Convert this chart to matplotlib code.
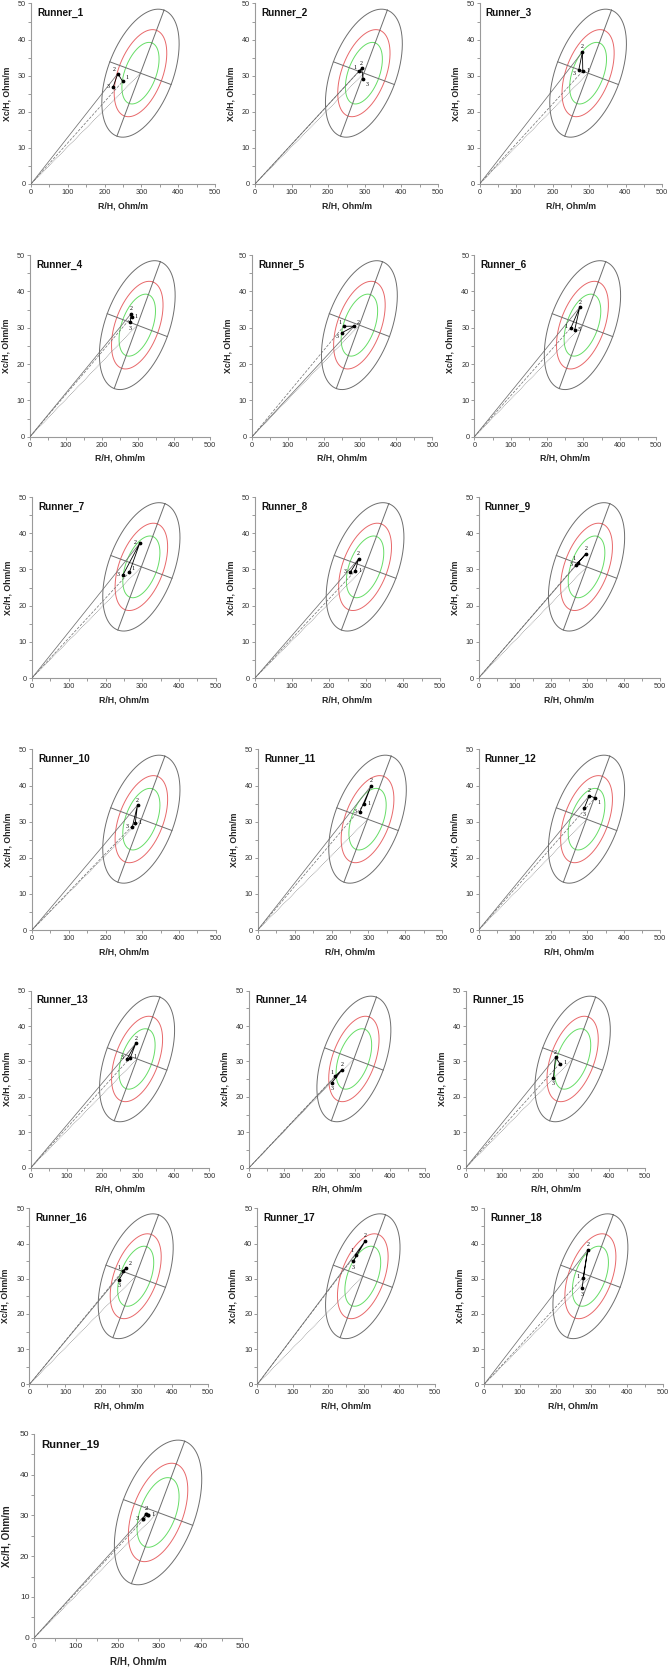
import numpy as np
import matplotlib
matplotlib.use('Agg')
import matplotlib.pyplot as plt
from matplotlib.ticker import MultipleLocator

plt.rcParams['font.family'] = ['Liberation Sans', 'DejaVu Sans']

# ---------------- data ----------------
runners = ['Runner_%d' % i for i in range(1, 20)]

# measurement 1
rh_1 = [249, 285, 283, 282, 254, 266, 265, 271, 273, 281, 288, 321, 279, 245, 262, 261, 277, 277, 273]
xc_1 = [28.4, 31.3, 31.3, 33.0, 30.4, 30.0, 29.2, 29.6, 31.8, 29.7, 34.8, 36.6, 31.1, 25.9, 29.4, 32.2, 36.8, 30.3, 30.1]
# measurement 2
rh_2 = [236, 291, 282, 280, 283, 290, 293, 280, 296, 287, 307, 305, 294, 263, 250, 271, 305, 290, 269]
xc_2 = [30.6, 32.0, 36.6, 33.8, 30.4, 35.6, 37.2, 32.9, 34.3, 34.6, 39.9, 37.2, 35.1, 27.6, 31.2, 33.1, 40.8, 38.2, 30.4]
# measurement 3
rh_3 = [223, 296, 272, 278, 249, 276, 247, 258, 269, 273, 276, 291, 270, 235, 244, 251, 271, 274, 261]
xc_3 = [26.8, 29.0, 31.6, 31.5, 28.6, 29.3, 28.4, 29.3, 31.2, 28.6, 32.6, 33.7, 30.8, 24.0, 25.4, 29.7, 35.0, 27.3, 29.1]

# reference tolerance ellipse (95 %): centre and conjugate semi-axis vectors
ref_center = (297.5, 30.7)
ref_major = (64.0, 17.45)
ref_minor = (83.3, -3.15)
ellipse_levels = [0.95, 0.75, 0.50]
ellipse_colors = ['#6e6e6e', '#e8686a', '#66dd66']

x_ticks = [0, 100, 200, 300, 400, 500]
y_ticks = [0, 10, 20, 30, 40, 50]

# label placement of the point numbers (r, l, t, b, tl, tr, br, bl)
label_pos = [
    ('tr', 'tl', 'l'), ('tl', 't', 'br'), ('r', 't', 'bl'), ('r', 't', 'b'),
    ('tl', 'tr', 'bl'), ('l', 't', 'r'), ('tr', 'l', 'l'), ('r', 't', 'l'),
    ('tl', 't', 'l'), ('r', 't', 'l'), ('r', 't', 'l'), ('br', 't', 'b'),
    ('r', 't', 'l'), ('tl', 't', 'b'), ('r', 't', 'b'), ('tl', 'tr', 'b'),
    ('tl', 't', 'b'), ('l', 't', 'b'), ('r', 't', 'l'),
]
offs = {'r': (3.4, 0.5), 'l': (-3.4, 0.5), 't': (0, 3.6), 'b': (0, -4.4),
        'tl': (-2.8, 2.8), 'tr': (2.8, 2.8), 'br': (2.8, -3.4), 'bl': (-3.0, -2.8)}

# ---------------- layout (pixel boxes: x0, x500, y0, y50) ----------------
W, H = 670, 1667
boxes = [
    (31, 215, 184, 3.5), (255, 438, 184, 3.5), (479.5, 662, 184, 3.5),
    (30, 210.3, 436.7, 255), (252, 432.5, 436.7, 255), (474.4, 656, 436.7, 255),
    (32, 215.8, 678, 497), (255, 440, 678, 497), (478.6, 660, 678, 497),
    (32, 215.8, 930, 749.5), (257.7, 442.3, 930, 749.5), (478.6, 660, 930, 749.5),
    (30.8, 209.4, 1167.7, 990.6), (249.1, 425.2, 1167.7, 990.6), (465.8, 645.3, 1167.7, 990.6),
    (29.5, 208, 1384.3, 1208.3), (257.3, 434.6, 1384.3, 1208.3), (484.2, 662.7, 1384.3, 1208.3),
    (34.3, 242.3, 1637.7, 1433.7),
]

fig = plt.figure(figsize=(W / 100, H / 100), dpi=100)

t = np.linspace(0, 2 * np.pi, 400)
k95 = np.sqrt(-2 * np.log(0.05))

for i, name in enumerate(runners):
    x0, x5, y0, y5 = boxes[i]
    big = (i == 18)
    sc = 1.13 if big else 1.0
    ax = fig.add_axes([x0 / W, 1 - y0 / H, (x5 - x0) / W, (y0 - y5) / H])
    ax.set_xlim(0, 500)
    ax.set_ylim(0, 50)
    ax.set_facecolor('white')

    cx, cy = ref_center
    ax_, ay_ = ref_major
    bx_, by_ = ref_minor
    for lev, col in zip(ellipse_levels, ellipse_colors):
        s = np.sqrt(-2 * np.log(1 - lev)) / k95
        ex = cx + s * (ax_ * np.cos(t) + bx_ * np.sin(t))
        ey = cy + s * (ay_ * np.cos(t) + by_ * np.sin(t))
        ax.plot(ex, ey, color=col, lw=0.7, zorder=2)
    ax.plot([cx - ax_, cx + ax_], [cy - ay_, cy + ay_], color='#6e6e6e', lw=0.7, zorder=2)
    ax.plot([cx - bx_, cx + bx_], [cy - by_, cy + by_], color='#6e6e6e', lw=0.7, zorder=2)

    p1 = (rh_1[i], xc_1[i]); p2 = (rh_2[i], xc_2[i]); p3 = (rh_3[i], xc_3[i])
    # vectors from the origin
    ax.plot([0, p2[0]], [0, p2[1]], color='#707070', lw=0.55, zorder=3)
    ax.plot([0, p1[0]], [0, p1[1]], color='#707070', lw=0.5, ls=(0, (4, 2)), zorder=3)
    ax.plot([0, cx], [0, cy], color='#707070', lw=0.5, ls=(0, (1, 1.2)), zorder=3)

    # path of the three measurements
    ax.plot([p1[0], p2[0], p3[0]], [p1[1], p2[1], p3[1]], color='black', lw=0.6,
            marker='o', ms=1.7 * sc, mfc='black', mec='black', zorder=5)
    for j, p in enumerate((p1, p2, p3)):
        dx, dy = offs[label_pos[i][j]]
        ax.annotate(str(j + 1), p, xytext=(dx * sc, dy * sc), textcoords='offset points',
                    ha='center', va='center', fontsize=4.3 * sc,
                    family=['Liberation Serif', 'DejaVu Serif'], color='black', zorder=6)

    ax.text(0.034, 0.945, name, transform=ax.transAxes, fontsize=7.2 * sc,
            fontweight='bold', ha='left', va='center', color='#111111')

    for sp in ('top', 'right'):
        ax.spines[sp].set_visible(False)
    for sp in ('left', 'bottom'):
        ax.spines[sp].set_color('#9a9a9a')
        ax.spines[sp].set_linewidth(0.8)
    ax.set_xticks(x_ticks)
    ax.set_yticks(y_ticks)
    ax.xaxis.set_minor_locator(MultipleLocator(50))
    ax.yaxis.set_minor_locator(MultipleLocator(5))
    ax.tick_params(which='both', direction='out', length=2, width=0.6, color='#8a8a8a',
                   labelsize=5.3 * sc, labelcolor='#333333', pad=1.5)
    ax.set_xlabel('R/H, Ohm/m', fontsize=6.3 * sc, fontweight='bold', color='#222222')
    ax.set_ylabel('Xc/H, Ohm/m', fontsize=6.3 * sc, fontweight='bold', color='#222222')
    wpx = x5 - x0
    hpx = y0 - y5
    xl_off = 19.0 if big else 17.0   # distance from axis to top of x label
    yl_off = 22.5 if big else 19.5   # distance from axis to right edge of y label
    ax.xaxis.set_label_coords(0.5, -xl_off / hpx)
    ax.yaxis.set_label_coords(-yl_off / wpx, 0.5)

fig.savefig('out.png', dpi=100, facecolor='white')
